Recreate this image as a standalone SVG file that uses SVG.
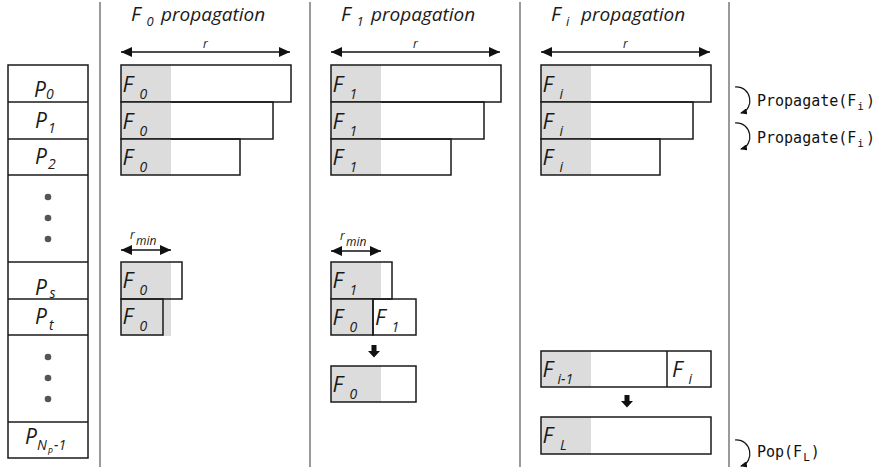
<svg xmlns="http://www.w3.org/2000/svg" width="880" height="473" viewBox="0 0 880 473">
  <style>
    .lbl { font-family: "Open Sans", "Liberation Sans", sans-serif; font-style: italic; fill: #1a1a1a; }
    .big { font-size: 22px; }
    .sub { font-size: 14px; }
    .pbig { font-size: 21px; }
    .ttl { font-size: 20px; }
    .tsub { font-size: 13px; }
    .prop { font-size: 19px; }
    .small { font-size: 12px; }
    .mono { font-family: "DejaVu Sans Mono", "Liberation Mono", monospace; font-size: 15px; fill: #111; }
    .msub { font-size: 11px; }
    .box { fill: none; stroke: #1a1a1a; stroke-width: 1.5; }
    .shade { fill: #dcdcdc; }
    .sep { stroke: #9a9a9a; stroke-width: 2; }
    .span { stroke: #111; stroke-width: 1.5; fill: none; marker-start: url(#head); marker-end: url(#head); }
    .loop { stroke: #111; stroke-width: 1.2; fill: none; marker-end: url(#small-head); }
    .dot { fill: #555; }
    .down { fill: #111; }
  </style>
  <defs>
    <marker id="head" markerUnits="userSpaceOnUse" markerWidth="11" markerHeight="10" refX="11" refY="5" orient="auto-start-reverse">
      <path d="M0,0 L11,5 L0,10 z" fill="#111"/>
    </marker>
    <marker id="small-head" markerUnits="userSpaceOnUse" markerWidth="7" markerHeight="6" refX="6" refY="3" orient="auto">
      <path d="M0,0 L7,3 L0,6 z" fill="#111"/>
    </marker>
  </defs>

  <rect x="0" y="0" width="880" height="473" fill="#fff"/>

  <!-- column separators -->
  <g id="separators">
    <line class="sep" x1="100" y1="2" x2="100" y2="467"/>
    <line class="sep" x1="310" y1="2" x2="310" y2="467"/>
    <line class="sep" x1="520" y1="2" x2="520" y2="467"/>
    <line class="sep" x1="729" y1="2" x2="729" y2="467"/>
  </g>

  <!-- process stack -->
  <g id="p-stack">
    <rect class="box" x="8" y="65" width="80" height="393"/>
    <line class="box" x1="8" y1="102" x2="88" y2="102"/>
    <line class="box" x1="8" y1="139" x2="88" y2="139"/>
    <line class="box" x1="8" y1="175" x2="88" y2="175"/>
    <line class="box" x1="8" y1="262" x2="88" y2="262"/>
    <line class="box" x1="8" y1="299" x2="88" y2="299"/>
    <line class="box" x1="8" y1="335" x2="88" y2="335"/>
    <line class="box" x1="8" y1="422" x2="88" y2="422"/>
  </g>
  <g id="p0"><text class="lbl"><tspan class="pbig" x="34" y="96.5">P</tspan><tspan class="sub" x="46" y="98.5">0</tspan></text></g>
  <g id="p1"><text class="lbl"><tspan class="pbig" x="35" y="127.5">P</tspan><tspan class="sub" x="48" y="133">1</tspan></text></g>
  <g id="p2"><text class="lbl"><tspan class="pbig" x="35" y="163.5">P</tspan><tspan class="sub" x="48" y="169">2</tspan></text></g>
  <g id="dots-upper">
    <circle class="dot" cx="48" cy="197" r="3.3"/>
    <circle class="dot" cx="48" cy="218" r="3.3"/>
    <circle class="dot" cx="48" cy="239" r="3.3"/>
  </g>
  <g id="ps"><text class="lbl"><tspan class="pbig" x="35" y="295">P</tspan><tspan class="sub" x="49.5" y="297.5">s</tspan></text></g>
  <g id="pt"><text class="lbl"><tspan class="pbig" x="35" y="324">P</tspan><tspan class="sub" x="49" y="330">t</tspan></text></g>
  <g id="dots-lower">
    <circle class="dot" cx="48" cy="357" r="3.3"/>
    <circle class="dot" cx="48" cy="378" r="3.3"/>
    <circle class="dot" cx="48" cy="399" r="3.3"/>
  </g>
  <g id="pn"><text class="lbl"><tspan class="pbig" x="25" y="444">P</tspan><tspan class="sub" x="37" y="450">N</tspan><tspan style="font-size:9px" x="47.5" y="455">P</tspan><tspan class="sub" x="54" y="450">-1</tspan></text></g>

  <!-- column titles -->
  <g id="title-f0"><text class="lbl"><tspan class="ttl" x="131" y="21">F</tspan><tspan class="tsub" x="146.5" y="26">0</tspan><tspan class="prop" x="161" y="21">propagation</tspan></text></g>
  <g id="title-f1"><text class="lbl"><tspan class="ttl" x="341" y="21">F</tspan><tspan class="tsub" x="356.5" y="26">1</tspan><tspan class="prop" x="371" y="21">propagation</tspan></text></g>
  <g id="title-fi"><text class="lbl"><tspan class="ttl" x="551" y="21">F</tspan><tspan class="tsub" x="566" y="26">i</tspan><tspan class="prop" x="581" y="21">propagation</tspan></text></g>

  <!-- range labels -->
  <g id="r-f0"><text class="lbl small" x="203" y="48">r</text></g>
  <g id="r-f1"><text class="lbl small" x="413" y="48">r</text></g>
  <g id="r-fi"><text class="lbl small" x="623" y="48">r</text></g>
  <g id="rmin-f0"><text class="lbl"><tspan class="small" x="130" y="239">r</tspan><tspan class="small" x="136" y="245">min</tspan></text></g>
  <g id="rmin-f1"><text class="lbl"><tspan class="small" x="340" y="240">r</tspan><tspan class="small" x="346" y="246">min</tspan></text></g>

  <!-- F0 column -->
  <g id="f0-a"><rect class="shade" x="121" y="65" width="50" height="37"/><rect class="box" x="121" y="65" width="170" height="37"/><text class="lbl"><tspan class="big" x="122.5" y="91.5">F</tspan><tspan class="sub" x="139.5" y="98.5">0</tspan></text></g>
  <g id="f0-b"><rect class="shade" x="121" y="102" width="50" height="37"/><rect class="box" x="121" y="102" width="152" height="37"/><text class="lbl"><tspan class="big" x="122.5" y="128.5">F</tspan><tspan class="sub" x="139.5" y="135.5">0</tspan></text></g>
  <g id="f0-c"><rect class="shade" x="121" y="139" width="50" height="36"/><rect class="box" x="121" y="139" width="119" height="36"/><text class="lbl"><tspan class="big" x="122.5" y="165">F</tspan><tspan class="sub" x="139.5" y="172">0</tspan></text></g>
  <g id="f0-ps"><rect class="shade" x="121" y="262" width="50" height="74"/><rect class="box" x="121" y="262" width="61" height="37"/><text class="lbl"><tspan class="big" x="122.5" y="288">F</tspan><tspan class="sub" x="139.5" y="295">0</tspan></text></g>
  <g id="f0-pt"><rect class="box" x="121" y="299" width="42" height="36"/><text class="lbl"><tspan class="big" x="122.5" y="324">F</tspan><tspan class="sub" x="139.5" y="331">0</tspan></text></g>

  <!-- F1 column -->
  <g id="f1-a"><rect class="shade" x="331" y="65" width="50" height="37"/><rect class="box" x="331" y="65" width="170" height="37"/><text class="lbl"><tspan class="big" x="332.5" y="91.5">F</tspan><tspan class="sub" x="349.5" y="98.5">1</tspan></text></g>
  <g id="f1-b"><rect class="shade" x="331" y="102" width="50" height="37"/><rect class="box" x="331" y="102" width="153" height="37"/><text class="lbl"><tspan class="big" x="332.5" y="128.5">F</tspan><tspan class="sub" x="349.5" y="135.5">1</tspan></text></g>
  <g id="f1-c"><rect class="shade" x="331" y="139" width="50" height="36"/><rect class="box" x="331" y="139" width="120" height="36"/><text class="lbl"><tspan class="big" x="332.5" y="165">F</tspan><tspan class="sub" x="349.5" y="172">1</tspan></text></g>
  <g id="f1-ps"><rect class="shade" x="331" y="262" width="50" height="37"/><rect class="box" x="331" y="262" width="61" height="37"/><text class="lbl"><tspan class="big" x="332.5" y="288">F</tspan><tspan class="sub" x="349.5" y="295">1</tspan></text></g>
  <g id="f1-pt-old"><rect class="shade" x="331" y="299" width="42" height="36"/><rect class="box" x="331" y="299" width="42" height="36"/><text class="lbl"><tspan class="big" x="332.5" y="324.5">F</tspan><tspan class="sub" x="349.5" y="331.5">0</tspan></text></g>
  <g id="f1-pt-new"><rect class="box" x="373" y="299" width="43" height="36"/><text class="lbl"><tspan class="big" x="375" y="324.5">F</tspan><tspan class="sub" x="391.5" y="331.5">1</tspan></text></g>
  <g id="f1-result"><rect class="shade" x="331" y="366" width="50" height="36"/><rect class="box" x="331" y="366" width="85" height="36"/><text class="lbl"><tspan class="big" x="332.5" y="392">F</tspan><tspan class="sub" x="349.5" y="399">0</tspan></text></g>

  <!-- Fi column -->
  <g id="fi-a"><rect class="shade" x="541" y="65" width="50" height="37"/><rect class="box" x="541" y="65" width="170" height="37"/><text class="lbl"><tspan class="big" x="542.5" y="91.5">F</tspan><tspan class="sub" x="559.5" y="98.5">i</tspan></text></g>
  <g id="fi-b"><rect class="shade" x="541" y="102" width="50" height="37"/><rect class="box" x="541" y="102" width="152" height="37"/><text class="lbl"><tspan class="big" x="542.5" y="128.5">F</tspan><tspan class="sub" x="559.5" y="135.5">i</tspan></text></g>
  <g id="fi-c"><rect class="shade" x="541" y="139" width="50" height="36"/><rect class="box" x="541" y="139" width="119" height="36"/><text class="lbl"><tspan class="big" x="542.5" y="165">F</tspan><tspan class="sub" x="559.5" y="172">i</tspan></text></g>
  <g id="fi-merge"><rect class="shade" x="541" y="351" width="50" height="36"/><rect class="box" x="541" y="351" width="170" height="36"/><line class="box" x1="667" y1="351" x2="667" y2="387"/><text class="lbl"><tspan class="big" x="542.5" y="377">F</tspan><tspan class="sub" x="557.5" y="384">i-1</tspan><tspan class="big" x="672" y="377">F</tspan><tspan class="sub" x="688.5" y="384">i</tspan></text></g>
  <g id="fi-result"><rect class="shade" x="541" y="417" width="50" height="37"/><rect class="box" x="541" y="417" width="170" height="37"/><text class="lbl"><tspan class="big" x="542.5" y="443">F</tspan><tspan class="sub" x="560" y="450">L</tspan></text></g>

  <!-- operations -->
  <g id="op-propagate-1"><text class="mono"><tspan x="757" y="106">Propagate(F</tspan><tspan class="msub" dx="1" dy="4">i</tspan><tspan dx="2" dy="-4">)</tspan></text></g>
  <g id="op-propagate-2"><text class="mono"><tspan x="757" y="143">Propagate(F</tspan><tspan class="msub" dx="1" dy="4">i</tspan><tspan dx="2" dy="-4">)</tspan></text></g>
  <g id="op-pop"><text class="mono"><tspan x="757" y="457">Pop(F</tspan><tspan class="msub" dx="1" dy="4">L</tspan><tspan dx="1" dy="-4">)</tspan></text></g>

  <!-- connectors -->
  <g id="connectors">
    <line class="span" x1="121" y1="52" x2="290" y2="52"/>
    <line class="span" x1="331" y1="52" x2="500" y2="52"/>
    <line class="span" x1="541" y1="52" x2="710" y2="52"/>
    <line class="span" x1="121" y1="250" x2="171" y2="250"/>
    <line class="span" x1="331" y1="251" x2="381" y2="251"/>
    <polygon class="down" points="371.5,345 376.5,345 376.5,351 380,351 374,357.5 368,351 371.5,351"/>
    <polygon class="down" points="624.5,395 629.5,395 629.5,401 633,401 627,407.5 621,401 624.5,401"/>
    <path class="loop" d="M735,87 C752,86 755,109 741,113"/>
    <path class="loop" d="M735,123 C752,122 755,145 741,149"/>
    <path class="loop" d="M735,440 C752,439 755,462 741,466"/>
  </g>
</svg>
